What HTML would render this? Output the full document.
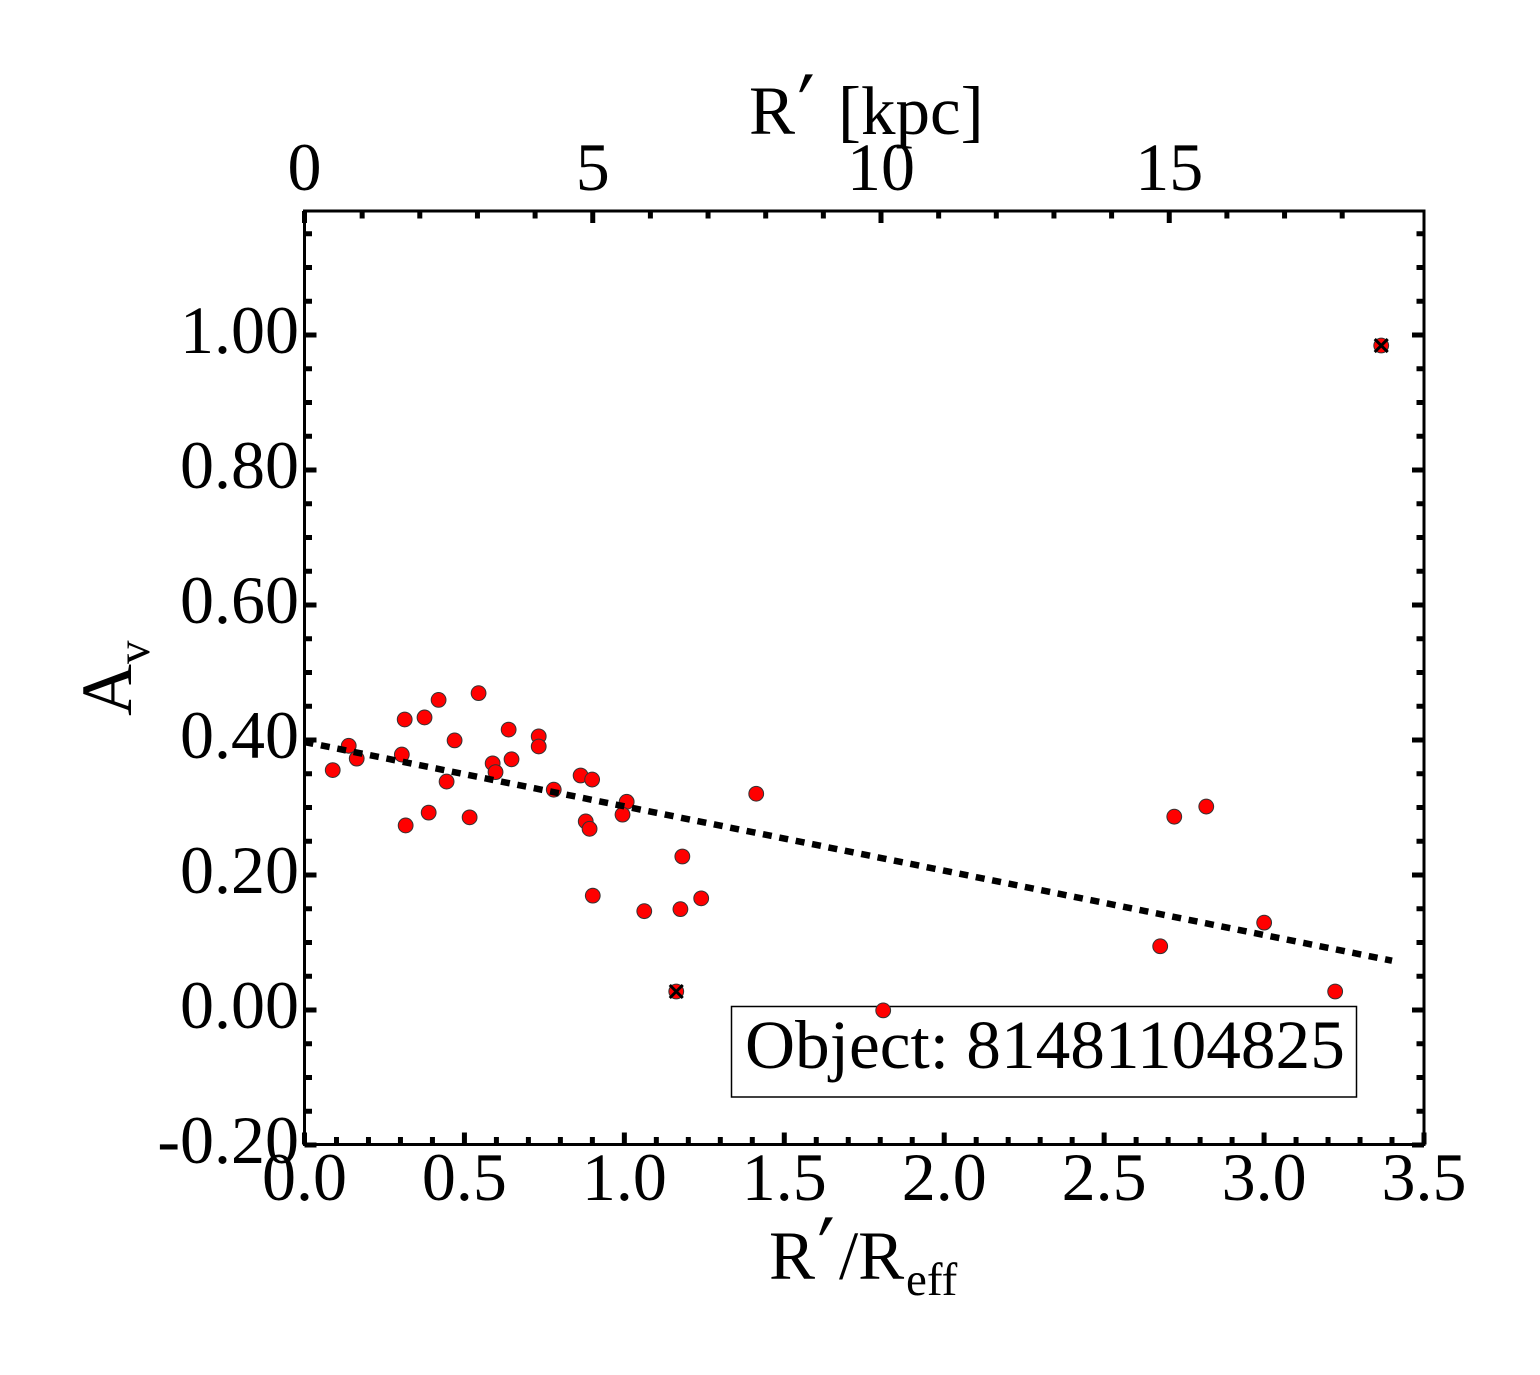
<!DOCTYPE html>
<html>
<head>
<meta charset="utf-8">
<title>Av vs R'/Reff</title>
<style>
html,body{margin:0;padding:0;background:#fff;}
svg{display:block;font-family:"Liberation Serif","DejaVu Serif",serif;fill:#000;}
</style>
</head>
<body>
<svg id="chart" xmlns="http://www.w3.org/2000/svg" width="1540" height="1375" viewBox="0 0 1540 1375"></svg>
<script>
const pointX = [0.087,0.137,0.162,0.303,0.312,0.374,0.418,0.468,0.543,0.443,0.315,0.387,0.515,0.587,0.596,0.646,0.637,0.731,0.731,0.778,0.862,0.898,0.878,0.890,0.900,1.006,0.993,1.061,1.174,1.180,1.239,1.411,2.718,2.818,2.674,2.999,3.221,1.808];
const pointY = [0.356,0.392,0.373,0.379,0.431,0.434,0.460,0.400,0.470,0.339,0.274,0.293,0.286,0.366,0.353,0.372,0.416,0.406,0.391,0.327,0.348,0.342,0.280,0.269,0.170,0.309,0.290,0.147,0.150,0.228,0.166,0.321,0.287,0.302,0.095,0.130,0.028,0.000];
const outlierX = [1.161,3.365];
const outlierY = [0.028,0.985];
const fitX = [0,3.4];
const fitY = [0.397,0.073];
const bottomMajor = [0,0.5,1,1.5,2,2.5,3,3.5];
const bottomLabels = ['0.0','0.5','1.0','1.5','2.0','2.5','3.0','3.5'];
const bottomMinor = [0.1,0.2,0.3,0.4,0.6,0.7,0.8,0.9,1.1,1.2,1.3,1.4,1.6,1.7,1.8,1.9,2.1,2.2,2.3,2.4,2.6,2.7,2.8,2.9,3.1,3.2,3.3,3.4];
const topMajor = [0,5,10,15];
const topLabels = ['0','5','10','15'];
const topMinor = [1,2,3,4,6,7,8,9,11,12,13,14,16,17,18];
const leftMajor = [-0.2,0,0.2,0.4,0.6,0.8,1.0];
const leftLabels = ['-0.20','0.00','0.20','0.40','0.60','0.80','1.00'];
const leftMinor = [-0.15,-0.1,-0.05,0.05,0.1,0.15,0.25,0.3,0.35,0.45,0.5,0.55,0.65,0.7,0.75,0.85,0.9,0.95,1.05,1.1,1.15];

const NS = 'http://www.w3.org/2000/svg';
const svg = document.getElementById('chart');
const left = 304.5, right = 1424, top_ = 211, bottom = 1144.5;
function sx(v){ return left + v * (right - left) / 3.5; }
function sxTop(v){ return left + v * 57.65; }
function sy(v){ return 1010 - v * 675; }

function make(tag, attrs, parent){
  const el = document.createElementNS(NS, tag);
  for (const k in attrs) el.setAttribute(k, attrs[k]);
  (parent || svg).appendChild(el);
  return el;
}
function tickLine(parent, x1, y1, x2, y2, w){
  const el = make('line', {x1:x1, y1:y1, x2:x2, y2:y2, stroke:'#000', 'stroke-width':w}, parent);
  
  
}
function tickLabel(parent, x, y, s, anchor){
  const el = make('text', {x:x, y:y, 'font-size':68, 'text-anchor':anchor}, parent);
  el.textContent = s;
  
  
}

/* legend box sits under the markers */
const legend = make('g', {});


const legendRect = make('rect', {x:731.5, y:1006.5, width:625, height:90.5, fill:'#fff', stroke:'#000', 'stroke-width':1.5}, legend);


const legendText = make('text', {x:745, y:1068, 'font-size':69.3}, legend);
legendText.textContent = 'Object: 81481104825';



/* ticks */
const ticks = make('g', {});


const MAJ = 12, MIN = 7.5, TW = 5;
bottomMajor.forEach(v => tickLine(ticks, sx(v), bottom, sx(v), bottom - MAJ, TW));
bottomMinor.forEach(v => tickLine(ticks, sx(v), bottom, sx(v), bottom - MIN, TW));
topMajor.forEach(v => tickLine(ticks, sxTop(v), top_, sxTop(v), top_ + MAJ, TW));
topMinor.forEach(v => tickLine(ticks, sxTop(v), top_, sxTop(v), top_ + MIN, TW));
leftMajor.forEach(v => {
  tickLine(ticks, left, sy(v), left + MAJ, sy(v), TW);
  tickLine(ticks, right, sy(v), right - MAJ, sy(v), TW);
});
leftMinor.forEach(v => {
  tickLine(ticks, left, sy(v), left + MIN, sy(v), TW);
  tickLine(ticks, right, sy(v), right - MIN, sy(v), TW);
});

/* frame */
const frame = make('rect', {x:left, y:top_, width:right-left, height:bottom-top_, fill:'none', stroke:'#000', 'stroke-width':3});



/* points */
const pts = make('g', {});


pointX.forEach((x, i) => {
  const c = make('circle', {cx:sx(x) + 0.4, cy:sy(pointY[i]) + 0.4, r:7.4, fill:'#f00', stroke:'#333', 'stroke-width':1}, pts);
  
  
});
outlierX.forEach((x, i) => {
  const cx = sx(x) + 0.4, cy = sy(outlierY[i]) + 0.4;
  const c = make('circle', {cx:cx, cy:cy, r:7.4, fill:'#f00', stroke:'#333', 'stroke-width':1}, pts);
  
  
  const m = make('path', {d:`M${cx-6.5} ${cy-6.5}L${cx+6.5} ${cy+6.5}M${cx-6.5} ${cy+6.5}L${cx+6.5} ${cy-6.5}`, stroke:'#000', 'stroke-width':3, fill:'none'}, pts);
  
  
});

/* fit line */
const fit = make('line', {x1:sx(fitX[0]), y1:sy(fitY[0]), x2:sx(fitX[1]), y2:sy(fitY[1]), stroke:'#000', 'stroke-width':6.5, 'stroke-dasharray':'9 7.7'});



/* tick labels */
const labels = make('g', {});


bottomMajor.forEach((v, i) => tickLabel(labels, sx(v), 1200, bottomLabels[i], 'middle'));
topMajor.forEach((v, i) => tickLabel(labels, sxTop(v), 190, topLabels[i], 'middle'));
leftMajor.forEach((v, i) => tickLabel(labels, 299, sy(v) + 18, leftLabels[i], 'end'));
</script>

<script>
function addText(name, x, y, size, str, extra){
  const el = make('text', Object.assign({x:x, y:y, 'font-size':size}, extra || {}));
  el.textContent = str;
  
  
  return el;
}
/* top axis title */
addText('top-axis-title-r', 749, 134, 69, 'R');
addText('top-axis-title-prime', 0, 0, 74, '\u2032', {transform:'translate(788 123) skewX(-14)', stroke:'#000', 'stroke-width':0.4});
addText('top-axis-title-unit', 838, 134, 69, '[kpc]');
/* bottom axis title */
addText('bottom-axis-title-r', 769, 1279, 69, 'R');
addText('bottom-axis-title-prime', 0, 0, 74, '\u2032', {transform:'translate(808 1266) skewX(-14)', stroke:'#000', 'stroke-width':0.4});
addText('bottom-axis-title-over', 839, 1279, 69, '/R');
addText('bottom-axis-title-sub', 906, 1295, 47, 'eff');
/* y axis title */
addText('y-axis-title-a', 0, 0, 72, 'A', {transform:'translate(131 716) rotate(-90)'});
addText('y-axis-title-sub', 0, 0, 47, 'v', {transform:'translate(149 664) rotate(-90)'});
</script>
</body>
</html>
